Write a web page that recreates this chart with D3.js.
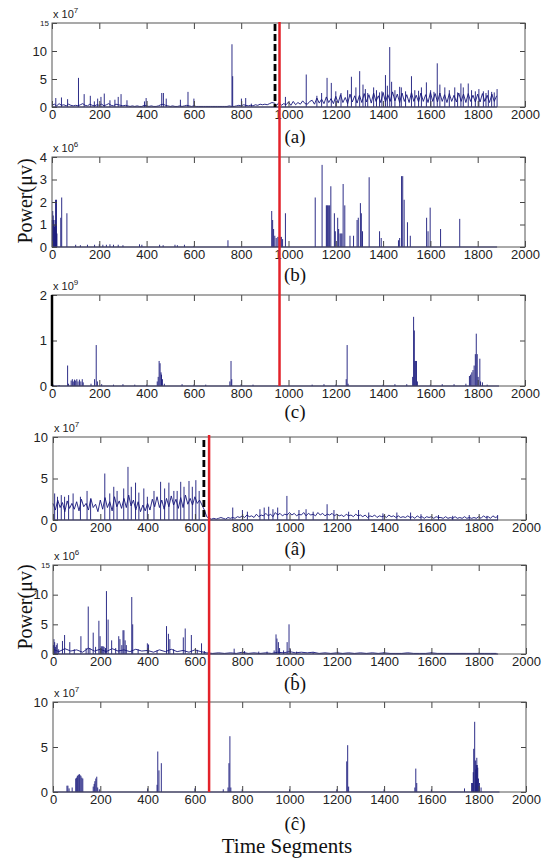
<!DOCTYPE html>
<html>
<head>
<meta charset="utf-8">
<script src="https://cdn.jsdelivr.net/npm/d3@7"></script>
<style>
  body { margin: 0; background: #fff; }
  svg text { font-family: "Liberation Sans", Arial, sans-serif; }
  .serif { font-family: "Liberation Serif", "Times New Roman", serif; }
</style>
</head>
<body>
<div id="chart"></div>
<script>
// ---- DATA ----
const X_TICKS = [0, 200, 400, 600, 800, 1000, 1200, 1400, 1600, 1800, 2000];

// (a) x10^7, sampled every 10 segments
const A_STEP = 10;
const aBase = [
  0.3,0.5,0.2,0.6,0.3,0.4,0.2,0.5,0.3,0.2,
  0.3,0.2,0.4,0.6,0.3,0.2,0.5,0.3,0.2,0.4,
  0.3,0.5,0.2,0.4,0.6,0.3,0.2,0.5,0.4,0.3,
  0.2,0.3,0.2,0.1,0.2,0.1,0.2,0.1,0.1,0.3,
  0.2,0.1,0.2,0.1,0.1,0.2,0.4,0.5,0.3,0.2,
  0.1,0.2,0.1,0.1,0.2,0.1,0.2,0.3,0.2,0.1,
  0.2,0.1,0.1,0.1,0.1,0.1,0.1,0.1,0.1,0.1,
  0.1,0.1,0.1,0.1,0.1,0.2,0.1,0.1,0.2,0.3,
  0.2,0.4,0.3,0.2,0.3,0.2,0.4,0.3,0.5,0.4,
  0.5,0.4,0.6,0.8,0.7,
  0.3,0.8,0.3,0.6,0.4,0.9,0.3,1.0,0.4,0.8,0.5,1.1,0.6,0.5,1.0,
  1.2,0.5,1.6,0.7,1.4,0.6,1.8,0.8,1.5,0.6,
  1.9,0.7,2.2,0.8,1.7,0.6,2.3,0.9,2.0,0.7,
  2.1,0.8,2.4,0.9,2.2,0.7,2.5,1.0,2.0,0.8,
  2.6,0.9,2.2,1.0,2.7,1.1,2.3,0.8,2.5,1.0,
  2.2,0.8,2.6,1.0,2.1,0.9,2.5,1.0,2.2,0.8,
  2.6,1.0,2.4,0.9,2.5,1.0,2.2,0.8,2.4,1.0,
  2.1,0.9,2.5,1.0,2.3,0.8,2.4,1.0,2.1,0.9,
  2.3,0.9,2.4,1.0,2.1,0.8,2.3,1.0,2.0
];
const aSpikes = [
  [16,1.6],[40,1.7],[66,1.4],[112,5.2],[136,2.3],[162,2.0],[179,1.0],[193,1.5],[207,1.8],
  [221,2.4],[245,1.2],[266,1.3],[280,1.8],[292,2.3],[317,1.2],[391,1.0],[398,1.6],[464,2.5],
  [471,2.5],[483,1.5],[543,1.3],[575,2.7],[600,1.5],[761,11.2],[764,5.5],[801,1.5],[819,1.6],
  [843,0.6],[987,1.8],[1075,5.8],[1120,2.0],[1140,2.5],[1163,5.2],[1181,4.3],[1200,2.8],
  [1222,2.5],[1250,3.0],[1266,5.4],[1285,3.5],[1301,6.4],[1315,4.0],[1325,3.2],[1335,2.5],
  [1360,3.5],[1372,3.0],[1385,2.6],[1395,2.8],[1410,5.7],[1418,3.8],[1428,10.7],[1436,4.5],
  [1450,3.0],[1470,3.6],[1477,3.5],[1495,2.8],[1520,5.5],[1534,3.0],[1550,2.9],[1562,3.5],
  [1583,4.4],[1601,3.0],[1615,2.7],[1629,7.8],[1640,4.0],[1661,3.5],[1680,3.0],[1703,3.5],
  [1715,2.6],[1729,4.2],[1739,3.5],[1760,4.2],[1774,3.0],[1790,2.8],[1805,3.2],[1824,2.8],
  [1835,2.5],[1845,3.0],[1859,2.7],[1870,2.6],[1882,3.2]
];

// (b) x10^6
const bSpikes = [
  [1,1.2],[3,1.6],[5,1.4],[7,1.2],[9,1.0],[11,0.9],[13,1.2],[15,2.1],[17,1.0],[19,2.1],[21,0.6],
  [37,1.3],[41,2.2],[63,1.5],[100,0.1],[120,0.08],[150,0.1],[180,0.1],[200,0.12],[215,0.1],
  [230,0.1],[245,0.12],[260,0.1],[280,0.1],[300,0.08],[370,0.12],[380,0.1],[455,0.1],[470,0.08],
  [520,0.1],[530,0.08],[560,0.1],[600,0.05],[744,0.3],
  [929,1.6],[933,1.2],[937,0.8],[942,0.5],[948,0.4],[955,0.45],[960,0.45],[965,0.45],[970,0.45],
  [975,0.35],[987,1.5],[1113,2.2],[1142,3.65],[1160,1.85],[1163,1.85],[1166,1.85],[1170,1.85],
  [1174,1.85],[1179,2.7],[1194,1.5],[1198,0.7],[1208,1.3],[1212,0.8],[1218,0.6],[1222,0.6],
  [1226,0.6],[1231,2.8],[1238,1.85],[1260,0.5],[1275,0.5],[1290,1.2],[1295,1.3],[1304,1.95],
  [1308,1.5],[1313,0.7],[1341,3.1],[1385,0.7],[1392,0.4],[1465,0.3],[1470,0.4],[1478,3.15],
  [1483,3.15],[1489,2.1],[1503,1.1],[1515,0.5],[1584,1.3],[1590,0.7],[1599,1.75],[1643,0.8],
  [1724,1.25]
];

// (c) x10^9
const cSpikes = [
  [5,0.03],[30,0.02],[66,0.45],[70,0.05],[81,0.12],[86,0.15],[90,0.1],[95,0.14],[100,0.12],
  [105,0.15],[110,0.1],[116,0.14],[122,0.1],[128,0.15],[132,0.08],[165,0.05],[180,0.15],
  [187,0.9],[192,0.1],[210,0.04],[260,0.03],[300,0.04],[350,0.03],[400,0.03],[445,0.1],
  [449,0.2],[453,0.55],[457,0.5],[461,0.3],[463,0.25],[467,0.15],[475,0.05],[550,0.04],
  [600,0.03],[650,0.03],[752,0.1],[757,0.55],[760,0.15],[800,0.04],[850,0.03],[1100,0.03],
  [1150,0.04],[1200,0.03],[1244,0.15],[1248,0.9],[1252,0.05],[1400,0.03],[1450,0.04],
  [1500,0.04],[1525,0.2],[1529,1.52],[1532,1.22],[1535,0.55],[1538,0.55],[1541,0.55],
  [1545,0.1],[1600,0.03],[1650,0.04],[1700,0.04],[1750,0.05],[1765,0.22],[1770,0.25],
  [1775,0.3],[1780,0.35],[1785,0.45],[1790,0.7],[1794,1.15],[1798,0.7],[1802,0.2],[1809,0.6],
  [1812,0.1],[1820,0.08],[1840,0.03]
];

// (a-hat) x10^7, sampled every 10 segments
const ahBase = [
  2.0,1.2,2.4,1.5,2.1,1.0,2.3,1.4,2.0,1.3,
  2.2,1.1,2.5,1.6,2.0,1.2,2.6,1.5,1.9,1.0,
  2.4,1.3,2.7,1.5,2.2,1.1,2.8,1.6,2.3,1.4,
  2.6,1.5,3.0,1.7,2.4,1.2,2.2,1.0,1.8,1.1,
  2.0,1.2,2.5,1.6,2.8,1.5,2.4,1.3,2.6,1.6,
  2.9,1.8,2.5,1.4,2.7,1.5,3.0,1.9,2.6,1.8,
  2.8,2.0,2.4,1.8,1.2,
  0.4,0.2,0.1,0.2,0.1,0.2,0.3,0.2,0.1,0.3,0.2,0.3,0.2,0.4,0.3,
  0.5,0.3,0.6,0.4,0.5,0.3,0.7,0.4,0.6,0.5,
  0.8,0.5,0.7,0.4,0.9,0.6,0.8,0.5,0.7,0.6,
  0.9,0.6,0.8,0.5,0.7,0.6,0.9,0.5,0.8,0.6,
  0.7,0.5,0.9,0.6,0.8,0.5,0.7,0.6,0.8,0.5,
  0.7,0.5,0.6,0.4,0.7,0.5,0.6,0.4,0.7,0.5,
  0.6,0.4,0.6,0.3,0.5,0.4,0.6,0.3,0.5,0.4,
  0.5,0.3,0.6,0.4,0.5,0.3,0.5,0.3,0.4,0.3,
  0.5,0.3,0.4,0.2,0.5,0.3,0.4,0.2,0.4,0.3,
  0.4,0.2,0.4,0.3,0.3,0.2,0.4,0.2,0.3,0.2,
  0.4,0.2,0.3,0.2,0.4,0.2,0.3,0.2,0.3,0.2,
  0.4,0.2,0.5,0.3,0.4,0.2,0.5,0.3,0.4
];
const ahSpikes = [
  [7,3.2],[19,2.8],[35,3.0],[49,2.8],[66,3.0],[85,3.2],[116,2.8],[144,3.5],[159,2.5],[219,5.6],
  [240,3.2],[257,4.0],[271,3.5],[299,3.8],[317,6.4],[331,4.0],[349,4.5],[363,3.3],[384,3.8],
  [399,2.8],[427,3.5],[455,4.6],[472,3.8],[490,4.5],[511,3.5],[525,3.5],[540,4.6],[554,4.0],
  [575,4.7],[589,4.0],[604,4.8],[618,3.5],
  [760,1.5],[801,1.2],[822,1.0],[875,1.3],[893,1.5],[912,1.6],[930,1.3],[950,1.5],[989,2.9],
  [1040,1.2],[1070,1.3],[1100,1.0],[1159,1.9],[1188,1.2],[1250,1.0],[1292,1.2],[1335,0.9],
  [1395,0.8],[1454,0.9],[1512,0.9],[1556,0.7],[1630,0.6],[1690,0.5],[1760,0.6],[1835,0.5],
  [1880,0.6]
];

// (b-hat) x10^6, base sampled every 25 segments
const BH_STEP = 25;
const bhBase = [
  0.8,0.4,0.9,0.5,0.7,0.3,1.0,0.5,0.8,0.4,0.9,0.5,0.7,0.4,0.8,0.5,0.6,0.3,0.7,0.4,
  0.8,0.4,0.6,0.3,0.7,0.4,
  0.2,0.1,0.2,0.1,0.2,0.1,0.3,0.1,0.2,0.1,0.2,0.1,0.3,0.2,0.4,0.2,0.3,0.2,0.3,0.1,
  0.2,0.1,0.2,0.1,0.2,0.1,0.2,0.1,0.2,0.1,0.2,0.1,0.1,0.1,0.2,0.1,0.1,0.1,0.2,0.1,
  0.1,0.1,0.1,0.1,0.1,0.1,0.1,0.1,0.1,0.1
];
const bhSpikes = [
  [2,1.5],[4,2.5],[7,2.0],[10,1.2],[14,1.5],[18,1.8],[24,0.8],[40,2.2],[49,3.2],[71,2.0],
  [90,0.8],[118,3.0],[140,1.0],[149,8.0],[156,1.0],[170,3.6],[180,1.2],[194,5.6],[199,3.0],
  [204,1.3],[208,1.3],[212,1.3],[216,1.2],[222,1.0],[226,10.6],[233,5.8],[248,2.3],[265,1.0],
  [278,3.0],[283,2.5],[291,1.5],[296,4.0],[300,4.0],[305,2.3],[310,1.5],[333,9.6],[337,5.0],
  [360,0.8],[399,1.8],[404,1.6],[440,0.6],[480,4.7],[488,3.4],[494,2.5],[510,0.8],[551,2.8],
  [559,4.3],[585,3.2],[610,0.7],[628,1.8],[640,0.5],[766,0.9],[810,0.5],[870,0.4],[905,0.4],
  [935,0.6],[943,3.3],[947,2.6],[953,2.0],[958,1.0],[975,0.6],[990,2.0],[998,5.0],[1004,0.8],
  [1030,0.4],[1100,0.3],[1204,0.4],[1400,0.3],[1600,0.3],[1800,0.2]
];

// (c-hat) x10^7
const chSpikes = [
  [59,0.7],[63,0.7],[68,0.4],[81,0.5],[96,1.5],[100,1.6],[103,1.8],[107,1.9],[111,2.0],
  [114,1.9],[118,1.8],[122,1.6],[126,1.5],[170,0.6],[174,0.9],[177,1.2],[181,1.5],[185,1.7],
  [189,0.5],[196,0.3],[400,0.4],[440,0.8],[443,4.5],[448,2.4],[458,3.2],[600,0.4],[720,0.3],
  [740,0.5],[744,3.2],[748,6.2],[752,0.5],[800,0.3],[1000,0.3],[1200,0.3],[1242,3.4],
  [1246,5.2],[1250,0.6],[1400,0.3],[1530,0.5],[1534,2.6],[1538,1.0],[1600,0.3],[1740,0.4],
  [1770,1.0],[1774,1.0],[1777,2.2],[1779,4.8],[1783,7.8],[1786,3.5],[1788,2.5],[1790,3.0],
  [1792,3.8],[1794,3.0],[1796,2.7],[1799,1.5],[1803,1.0],[1810,0.5]
];

// change points (segments)
const RED_TOP = 962, DASH_TOP = 943;
const RED_BOT = 660, DASH_BOT = 638;

// ---- LAYOUT ----
const W = 547, H = 861;
const LINE_COL = "#16167a";
const fmt = d3.format("d");

const panels = [
  { top: 23,  bottom: 107, left: 52, right: 525, yMax: 15, yTicks: [0,5,10,15], exp: "7", label: "(a)",        labelY: 143, base: aBase, step: A_STEP, spikes: aSpikes, end: 1882, smallTop: true },
  { top: 157, bottom: 247, left: 52, right: 525, yMax: 4,  yTicks: [0,1,2,3,4], exp: "6", label: "(b)",        labelY: 281, spikes: bSpikes, end: 1882 },
  { top: 295, bottom: 386, left: 52, right: 525, yMax: 2,  yTicks: [0,1,2],     exp: "9", label: "(c)",        labelY: 418, spikes: cSpikes, end: 1890, thickLeft: true },
  { top: 437, bottom: 520, left: 53, right: 526, yMax: 10, yTicks: [0,5,10],    exp: "7", label: "(\u00E2)",   labelY: 555, base: ahBase, step: A_STEP, spikes: ahSpikes, end: 1882 },
  { top: 565, bottom: 654, left: 53, right: 526, yMax: 15, yTicks: [0,5,10,15], exp: "6", label: "(b\u0302)",  labelY: 690, base: bhBase, step: BH_STEP, spikes: bhSpikes, end: 1882, smallTop: true },
  { top: 702, bottom: 792, left: 53, right: 526, yMax: 10, yTicks: [0,5,10],    exp: "7", label: "(\u0109)",   labelY: 830, spikes: chSpikes, end: 1888 }
];

const svg = d3.select("#chart").append("svg")
  .attr("width", W).attr("height", H);

const scales = [];

panels.forEach(p => {
  const x = d3.scaleLinear().domain([0, 2000]).range([p.left, p.right]);
  const y = d3.scaleLinear().domain([0, p.yMax]).range([p.bottom, p.top]);
  scales.push({ x, y });
  const g = svg.append("g");

  // data: baseline, sampled series, spikes
  g.append("path")
    .datum([[0, 0], [p.end, 0]])
    .attr("fill", "none").attr("stroke", LINE_COL).attr("stroke-width", 1.2)
    .attr("d", d3.line().x(d => x(d[0])).y(d => y(d[1])));

  if (p.base) {
    g.append("path")
      .datum(p.base)
      .attr("fill", "none").attr("stroke", LINE_COL).attr("stroke-width", 0.9)
      .attr("d", d3.line().x((d, i) => x(i * p.step)).y(d => y(d)));
  }

  g.selectAll("line.spike").data(p.spikes).enter().append("line")
    .attr("class", "spike")
    .attr("x1", d => x(d[0])).attr("x2", d => x(d[0]))
    .attr("y1", y(0)).attr("y2", d => y(d[1]))
    .attr("stroke", LINE_COL).attr("stroke-width", 0.9);

  // axes, MATLAB style: ticks inside on all four sides
  g.append("g").attr("transform", `translate(0,${p.bottom})`)
    .call(d3.axisBottom(x).tickValues(X_TICKS).tickFormat(fmt).tickSize(-6).tickPadding(3));
  g.append("g").attr("transform", `translate(0,${p.top})`)
    .call(d3.axisTop(x).tickValues(X_TICKS).tickSize(-6).tickFormat(""));
  const yl = g.append("g").attr("transform", `translate(${p.left},0)`)
    .call(d3.axisLeft(y).tickValues(p.yTicks).tickFormat(fmt).tickSize(-5).tickPadding(5));
  g.append("g").attr("transform", `translate(${p.right},0)`)
    .call(d3.axisRight(y).tickValues(p.yTicks).tickSize(-5).tickFormat(""));

  g.selectAll(".domain").remove();
  g.selectAll(".tick line").attr("stroke", "#444");
  g.selectAll(".tick text").attr("fill", "#222")
    .style("font-family", '"Liberation Sans", Arial, sans-serif').style("font-size", "13px");
  if (p.smallTop) {
    yl.selectAll(".tick text").filter(d => d === p.yMax).style("font-size", "8px").attr("x", -3);
  }

  // frame
  g.append("rect")
    .attr("x", p.left).attr("y", p.top)
    .attr("width", p.right - p.left).attr("height", p.bottom - p.top)
    .attr("fill", "none").attr("stroke", "#555").attr("stroke-width", 1);
  if (p.thickLeft) {
    g.append("line")
      .attr("x1", p.left).attr("x2", p.left).attr("y1", p.top).attr("y2", p.bottom)
      .attr("stroke", "#000").attr("stroke-width", 2.5);
  }

  // exponent
  const ex = g.append("text").attr("x", p.left + 1).attr("y", p.top - 5)
    .attr("fill", "#222").style("font-size", "11px");
  ex.append("tspan").text("x 10");
  ex.append("tspan").attr("dy", -5).style("font-size", "8px").text(p.exp);

  // panel label
  g.append("text").attr("class", "serif")
    .attr("x", 295).attr("y", p.labelY).attr("text-anchor", "middle")
    .style("font-size", "19px").attr("fill", "#111")
    .text(p.label);
});

// change-point markers
const top0 = scales[0], bot0 = scales[3];
svg.append("line")
  .attr("x1", top0.x(DASH_TOP)).attr("x2", top0.x(DASH_TOP))
  .attr("y1", panels[0].top + 1).attr("y2", panels[0].bottom)
  .attr("stroke", "#000").attr("stroke-width", 2.8).attr("stroke-dasharray", "7,3");
svg.append("line")
  .attr("x1", bot0.x(DASH_BOT)).attr("x2", bot0.x(DASH_BOT))
  .attr("y1", panels[3].top + 3).attr("y2", panels[3].bottom)
  .attr("stroke", "#000").attr("stroke-width", 2.8).attr("stroke-dasharray", "7,3");

svg.append("line")
  .attr("x1", top0.x(RED_TOP)).attr("x2", top0.x(RED_TOP))
  .attr("y1", panels[0].top - 1).attr("y2", panels[2].bottom)
  .attr("stroke", "#e3222a").attr("stroke-width", 2.5);
svg.append("line")
  .attr("x1", bot0.x(RED_BOT)).attr("x2", bot0.x(RED_BOT))
  .attr("y1", panels[3].top - 2).attr("y2", panels[5].bottom)
  .attr("stroke", "#e3222a").attr("stroke-width", 2.5);

// axis titles
[201, 607].forEach(cy => {
  svg.append("text").attr("class", "serif")
    .attr("transform", `translate(25,${cy}) rotate(-90)`)
    .attr("text-anchor", "middle").attr("dominant-baseline", "central")
    .style("font-size", "20px").attr("fill", "#111")
    .text("Power(\u03BCv)");
});

svg.append("text").attr("class", "serif")
  .attr("x", 287).attr("y", 853).attr("text-anchor", "middle")
  .style("font-size", "21px").attr("fill", "#111")
  .text("Time Segments");
</script>
</body>
</html>
